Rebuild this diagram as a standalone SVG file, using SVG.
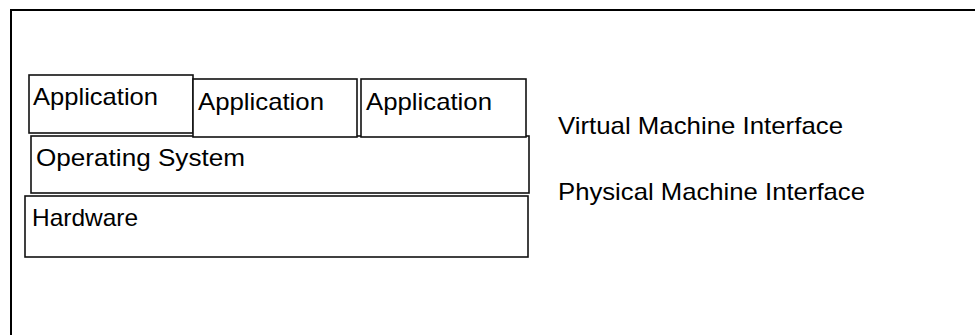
<svg xmlns="http://www.w3.org/2000/svg" width="975" height="335" viewBox="0 0 975 335">
<style>
.box{fill:#fff;stroke:#111;stroke-width:1.6}
.t{font-family:"Liberation Sans",Arial,sans-serif;font-size:24px;fill:#000}
</style>
<rect x="0" y="0" width="975" height="335" fill="#fff"/>
<rect x="11" y="10" width="1000" height="400" fill="none" stroke="#000" stroke-width="2"/>
<g id="hardware">
<rect class="box" x="25" y="196" width="503" height="61"/>
<text class="t" x="32" y="226" textLength="106" lengthAdjust="spacingAndGlyphs">Hardware</text>
</g>
<g id="os">
<rect class="box" x="31" y="136" width="498" height="57"/>
<text class="t" x="36" y="166" textLength="209" lengthAdjust="spacingAndGlyphs">Operating System</text>
</g>
<g id="app1">
<rect class="box" x="29" y="75" width="164" height="58"/>
<text class="t" x="33" y="105" textLength="125" lengthAdjust="spacingAndGlyphs">Application</text>
</g>
<g id="app2">
<rect class="box" x="193" y="79" width="164" height="58"/>
<text class="t" x="198" y="110" textLength="126" lengthAdjust="spacingAndGlyphs">Application</text>
</g>
<g id="app3">
<rect class="box" x="361" y="79" width="165" height="58"/>
<text class="t" x="366" y="110" textLength="126" lengthAdjust="spacingAndGlyphs">Application</text>
</g>
<g id="vmi">
<text class="t" x="558" y="134" textLength="285" lengthAdjust="spacingAndGlyphs">Virtual Machine Interface</text>
</g>
<g id="pmi">
<text class="t" x="558" y="200" textLength="307" lengthAdjust="spacingAndGlyphs">Physical Machine Interface</text>
</g>
<g id="connectors"></g>
</svg>
